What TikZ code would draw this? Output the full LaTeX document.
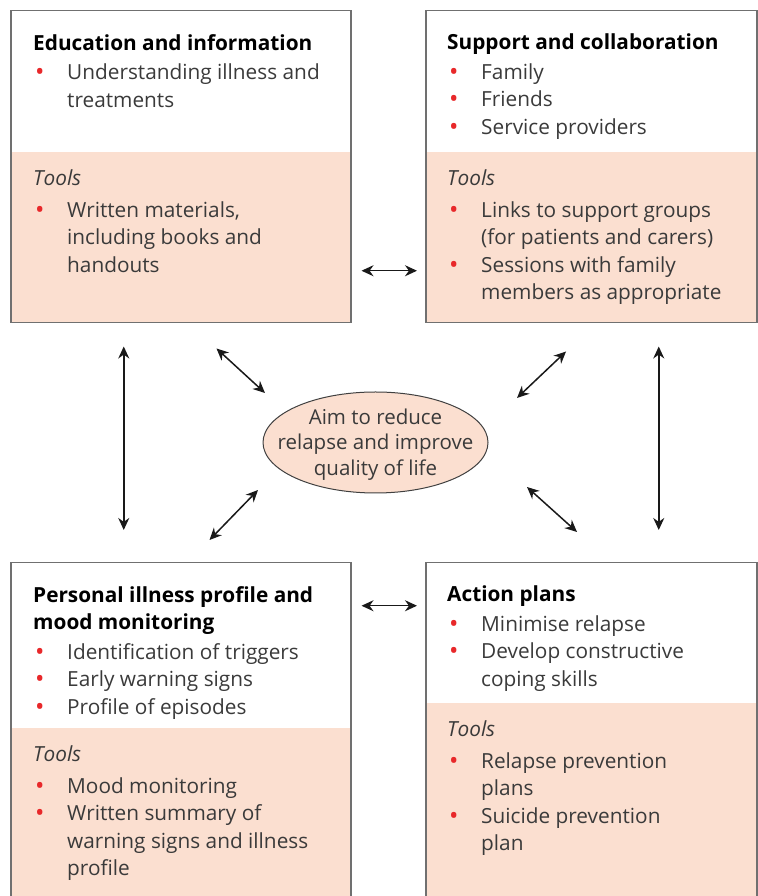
\documentclass[tikz,border=0pt]{standalone}
\usepackage{fontspec}
\setmainfont{Open Sans}
\usepackage{xcolor}
\usetikzlibrary{arrows.meta, positioning, shapes.geometric}

\definecolor{peach}{HTML}{FBDFD0}
\definecolor{boxgray}{HTML}{707070}
\definecolor{bulred}{HTML}{E8282A}
\definecolor{txtgray}{HTML}{3A3A3A}

\newcommand{\bl}{\makebox[34pt][l]{\hspace{2pt}\raisebox{-1pt}{\textcolor{bulred}{\fontsize{25}{0}\selectfont\textbullet}}}}
\newcommand{\nb}{\hspace*{34pt}}
\newcommand{\hd}[1]{\textcolor{black}{\bfseries #1}}

\begin{document}
\begin{tikzpicture}[
  x=1pt, y=1pt,
  box/.style={draw=boxgray, line width=1.5pt, inner sep=0pt, anchor=north west},
  tools/.style={fill=peach, inner sep=0pt, anchor=south west},
  txt/.style={align=left, inner sep=0pt, text=txtgray, font=\fontsize{20.8}{27.5}\selectfont},
  aimell/.style={ellipse, draw=black!75, fill=peach, line width=1pt, minimum width=225pt, minimum height=101pt, inner sep=0pt},
  arr/.style={{Stealth[length=12pt,width=11pt]}-{Stealth[length=12pt,width=11pt]}, line width=1.5pt, draw=black!90}
]
  \useasboundingbox (0,0) rectangle (757,896);

  % shaded tool areas
  \node[tools, minimum width=340pt, minimum height=170pt] (edutools) at (10,574) {};
  \node[tools, minimum width=331pt, minimum height=170pt] (supptools) at (425,574) {};
  \node[tools, minimum width=340pt, minimum height=170pt] (proftools) at (10,-2) {};
  \node[tools, minimum width=331pt, minimum height=195pt] (acttools) at (425,-2) {};

  % outer boxes
  \node[box, minimum width=340pt, minimum height=312pt] (edu) at (10,886) {};
  \node[box, minimum width=331pt, minimum height=312pt] (supp) at (425,886) {};
  \node[box, minimum width=340pt, minimum height=336pt] (prof) at (10,334) {};
  \node[box, minimum width=331pt, minimum height=336pt] (act) at (425,334) {};

  % texts
  \node[txt, below right=24pt and 23pt of edu.north west] (edutxt)
    {\hd{Education and information}\\[2pt]
     \bl Understanding illness and\\
     \nb treatments};
  \node[txt, below right=18pt and 23pt of edutools.north west] (edutooltxt)
    {\textit{Tools}\\[4pt]
     \bl Written materials,\\
     \nb including books and\\
     \nb handouts};
  \node[txt, below right=24pt and 22pt of supp.north west] (supptxt)
    {\hd{Support and collaboration}\\[2pt]
     \bl Family\\
     \bl Friends\\
     \bl Service providers};
  \node[txt, below right=18pt and 22pt of supptools.north west] (supptooltxt)
    {\textit{Tools}\\[4pt]
     \bl Links to support groups\\
     \nb (for patients and carers)\\
     \bl Sessions with family\\
     \nb members as appropriate};
  \node[txt, below right=24pt and 23pt of prof.north west] (proftxt)
    {\hd{Personal illness profile and}\\
     \hd{mood monitoring}\\[2pt]
     \bl Identification of triggers\\
     \bl Early warning signs\\
     \bl Profile of episodes};
  \node[txt, below right=18pt and 23pt of proftools.north west] (proftooltxt)
    {\textit{Tools}\\[4pt]
     \bl Mood monitoring\\
     \bl Written summary of\\
     \nb warning signs and illness\\
     \nb profile};
  \node[txt, below right=24pt and 22pt of act.north west] (acttxt)
    {\hd{Action plans}\\[2pt]
     \bl Minimise relapse\\
     \bl Develop constructive\\
     \nb coping skills};
  \node[txt, below right=18pt and 22pt of acttools.north west] (acttooltxt)
    {\textit{Tools}\\[4pt]
     \bl Relapse prevention\\
     \nb plans\\
     \bl Suicide prevention\\
     \nb plan};

  % centre
  \node[aimell] (aim) at (375.5,453.5) {};
  \node[txt, align=center, font=\fontsize{20.5}{25.5}\selectfont] (aimtxt) at ([yshift=-2pt]aim.center)
    {Aim to reduce\\relapse and improve\\quality of life};

  % links
  \draw[arr, shorten <=10pt, shorten >=8pt] ([yshift=-104pt]edu.east) -- ([yshift=-104pt]supp.west);
  \draw[arr, shorten <=10pt, shorten >=8pt] ([yshift=125pt]prof.east) -- ([yshift=125pt]act.west);
  \draw[arr, shorten <=23pt, shorten >=32pt] ([xshift=-57pt]edu.south) -- ([xshift=-57pt]prof.north);
  \draw[arr, shorten <=23pt, shorten >=32pt] ([xshift=67.5pt]supp.south) -- ([xshift=67.5pt]act.north);
  \draw[arr] ([shift={(-135,-25)}]edu.south east) -- ([shift={(-110.5,49.5)}]aim.center);
  \draw[arr] ([shift={(141,-28)}]supp.south west) -- ([shift={(141.5,44.5)}]aim.center);
  \draw[arr] ([shift={(-117.5,-47.5)}]aim.center) -- ([shift={(-142,22)}]prof.north east);
  \draw[arr] ([shift={(151.5,-44.5)}]aim.center) -- ([shift={(152,30)}]act.north west);
\end{tikzpicture}
\end{document}
